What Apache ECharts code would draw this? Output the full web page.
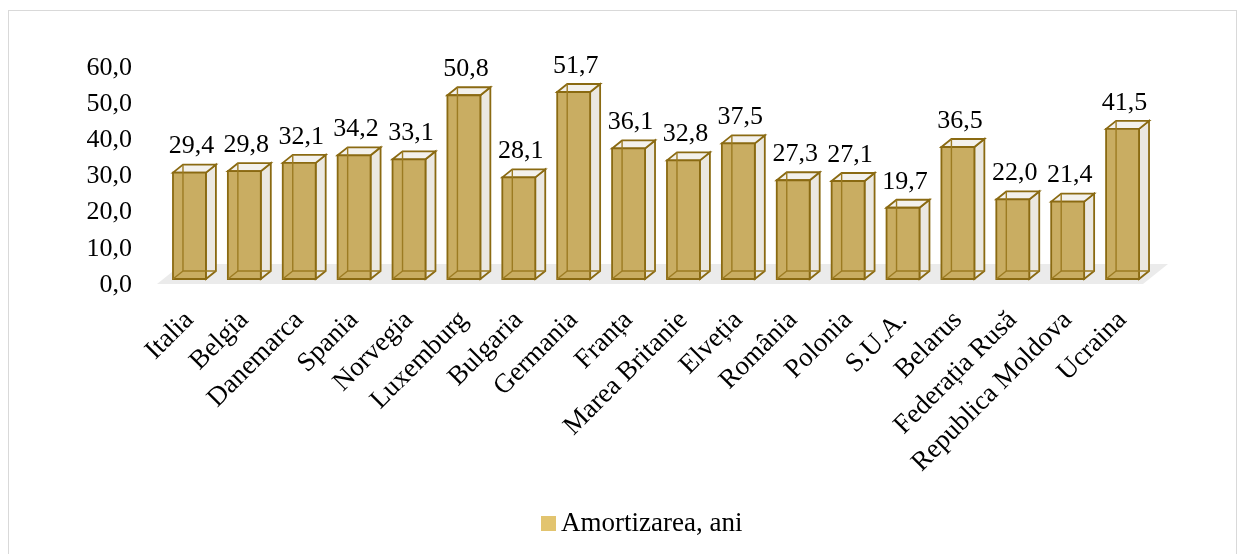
<!DOCTYPE html>
<html>
<head>
<meta charset="utf-8">
<script src="https://cdn.jsdelivr.net/npm/echarts@6/dist/echarts.min.js"></script>
<style>
  html, body { margin: 0; padding: 0; background: #fff; }
  #frame { position: absolute; left: 8px; top: 10px; width: 1229px; height: 560px; border: 1px solid #d9d9d9; box-sizing: border-box; }
  #main { position: absolute; left: 0; top: 0; width: 1245px; height: 554px; }
</style>
</head>
<body>
<div id="frame"></div>
<div id="main"></div>
<script>
const countries = ['Italia', 'Belgia', 'Danemarca', 'Spania', 'Norvegia', 'Luxemburg', 'Bulgaria', 'Germania',
  'Franța', 'Marea Britanie', 'Elveția', 'România', 'Polonia', 'S.U.A.', 'Belarus', 'Federația Rusă',
  'Republica Moldova', 'Ucraina'];
const amortizare = [29.4, 29.8, 32.1, 34.2, 33.1, 50.8, 28.1, 51.7, 36.1, 32.8, 37.5, 27.3, 27.1, 19.7, 36.5, 22.0, 21.4, 41.5];
const seriesName = 'Amortizarea, ani';

const FONT = "'Liberation Serif', 'Times New Roman', serif";
const FS = 26;
const fmt = v => v.toFixed(1).replace('.', ',');

// fake 3d box: front face + side + top, with back edges showing through
function renderBar(params, api) {
  const i = api.value(0), v = api.value(1);
  const base = api.coord([i, 0]);
  const top = api.coord([i, v]);
  const bw = api.size([1, 0])[0] * 0.6;
  const dx = 10, dy = 8, lift = 6;
  const x0 = base[0] - bw / 2, x1 = x0 + bw;
  const yb = base[1] - lift, yt = top[1] - lift;
  const edge = '#8a6a12';
  return {
    type: 'group',
    children: [
      { type: 'polygon', shape: { points: [[x1, yb], [x1 + dx, yb - dy], [x1 + dx, yt - dy], [x1, yt]] },
        style: { fill: '#ebe8e1', stroke: edge, lineWidth: 1.8 } },
      { type: 'polygon', shape: { points: [[x0, yt], [x0 + dx, yt - dy], [x1 + dx, yt - dy], [x1, yt]] },
        style: { fill: '#f3f1ec', stroke: edge, lineWidth: 1.8 } },
      { type: 'rect', shape: { x: x0, y: yt, width: bw, height: yb - yt },
        style: { fill: '#c9ad62', stroke: edge, lineWidth: 1.8 } },
      { type: 'polyline', shape: { points: [[x0 + dx, yt - dy], [x0 + dx, yb - dy], [x1 + dx, yb - dy]] },
        style: { fill: null, stroke: '#9c7b22', lineWidth: 1.4 } },
      { type: 'line', shape: { x1: x0, y1: yb, x2: x0 + dx, y2: yb - dy },
        style: { stroke: '#9c7b22', lineWidth: 1.4 } },
      { type: 'text', style: { text: fmt(v), x: (x0 + x1) / 2 + 2, y: yt - dy - 5,
        align: 'center', verticalAlign: 'bottom', fontSize: FS, fontFamily: FONT, fill: '#000' } }
    ]
  };
}

function renderFloor(params, api) {
  const cs = params.coordSys;
  const yb = cs.y + cs.height;
  return {
    type: 'polygon',
    shape: { points: [[cs.x - 5, yb - 1], [cs.x + cs.width - 7, yb - 1], [cs.x + cs.width + 18, yb - 21], [cs.x + 20, yb - 21]] },
    style: { fill: '#ebebeb' }
  };
}

const chart = echarts.init(document.getElementById('main'), null, { renderer: 'canvas' });
chart.setOption({
  backgroundColor: 'transparent',
  animation: false,
  grid: { left: 162, right: 95, top: 68, bottom: 269 },
  legend: {
    data: [seriesName],
    bottom: 12,
    left: 536,
    icon: 'rect',
    itemWidth: 15,
    itemHeight: 15,
    itemGap: 4,
    textStyle: { fontSize: 27, fontFamily: FONT, color: '#000' }
  },
  xAxis: {
    type: 'category',
    data: countries,
    axisLine: { show: false },
    axisTick: { show: false },
    axisLabel: { interval: 0, rotate: 45, margin: 31, fontSize: 27, fontFamily: FONT, color: '#000' }
  },
  yAxis: {
    type: 'value',
    min: 0, max: 60, interval: 10,
    splitLine: { show: false },
    axisLine: { show: false },
    axisTick: { show: false },
    axisLabel: { margin: 30, fontSize: FS, fontFamily: FONT, color: '#000', formatter: v => fmt(v) }
  },
  series: [
    { name: 'floor', type: 'custom', renderItem: renderFloor, data: [[0, 0]], silent: true, z: 1 },
    {
      name: seriesName,
      type: 'custom',
      renderItem: renderBar,
      itemStyle: { color: '#e2c46f' },
      encode: { x: 0, y: 1 },
      data: amortizare.map((v, i) => [i, v]),
      z: 2
    }
  ]
});
</script>
</body>
</html>
